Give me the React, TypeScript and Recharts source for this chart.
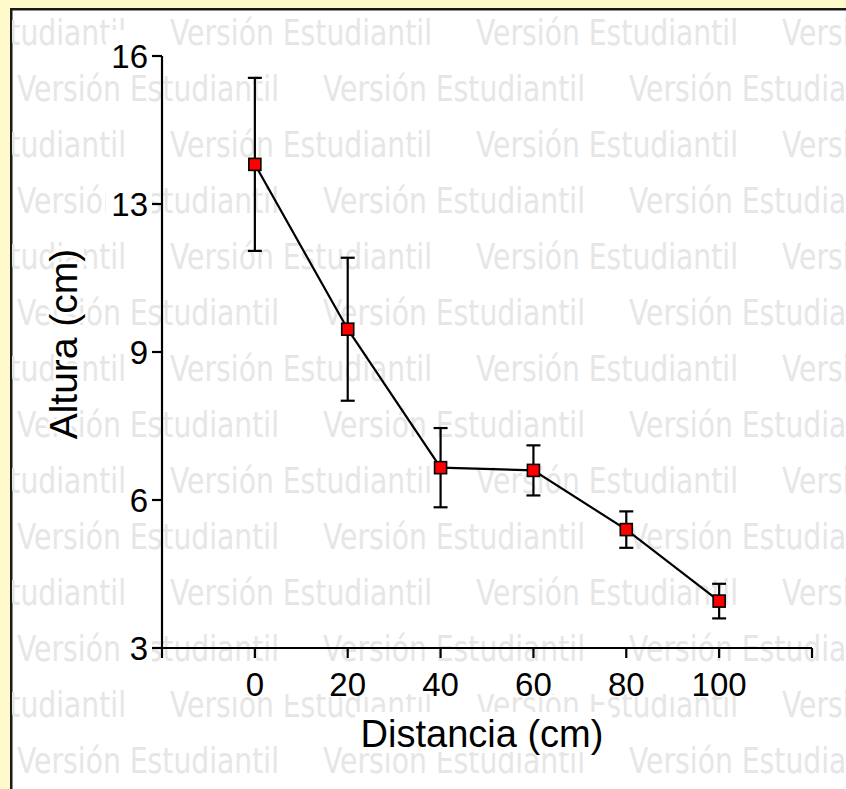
import React from "react";
import { ErrorBar, Line, LineChart, XAxis, YAxis } from "recharts";

// distancia (cm) y altura media (cm) con su error
const distancias = [0, 20, 40, 60, 80, 100];
const alturaMedia = [13.62, 10.0, 6.96, 6.9, 5.6, 4.03];
const alturaError = [1.9, 1.57, 0.87, 0.55, 0.4, 0.38];

const xTicks = [-20, 0, 20, 40, 60, 80, 100, 120];
const xTickLabels = ["", "0", "20", "40", "60", "80", "100", ""];
const yTicks = [3, 6.25, 9.5, 12.75, 16];
const yTickLabels = ["3", "6", "9", "13", "16"];

const data = distancias.map((d, i) => ({
  distancia: d,
  altura: alturaMedia[i],
  error: alturaError[i],
}));

const W = 846;
const H = 789;
const font = "'Liberation Sans', Arial, sans-serif";
const watermark = "Versión Estudiantil";

function Watermark() {
  const rows = [];
  for (let k = 0; k < 14; k++) {
    const baseline = 45 + 56 * k;
    const start = k % 2 === 1 ? 17 : 17 - 153;
    for (let x = start; x < W; x += 306) {
      rows.push(
        <text
          key={`${k}-${x}`}
          x={x}
          y={baseline}
          fontSize={35}
          fontFamily="'DejaVu Sans', Verdana, sans-serif"
          fill="#e6e6e6"
          textLength={262}
          lengthAdjust="spacingAndGlyphs"
        >
          {watermark}
        </text>
      );
    }
  }
  return (
    <svg width={W} height={H} style={{ position: "absolute", left: 0, top: 0 }}>
      <defs>
        <clipPath id="panel">
          <rect x={12} y={10} width={W} height={H} />
        </clipPath>
      </defs>
      <rect x={0} y={0} width={W} height={H} fill="#fffacc" />
      <rect x={11.25} y={9.25} width={W} height={H} fill="#fff" stroke="#1a1a1a" strokeWidth={2.5} />
      <g clipPath="url(#panel)">{rows}</g>
      {/* label backgrounds */}
      <rect x={205} y={664} width={555} height={30} fill="#fff" />
      <rect x={355} y={712} width={257} height={40} fill="#fff" />
    </svg>
  );
}

function YTick(props: any) {
  const { x, y, payload } = props;
  const label = yTickLabels[yTicks.indexOf(payload.value)] ?? "";
  const w = label.length * 18;
  return (
    <g>
      <rect x={x - w - 6} y={y - 26} width={w + 10} height={44} fill="#fff" />
      <text x={x} y={y} dy="0.355em" textAnchor="end" fontSize={33} fontFamily={font} fill="#000">
        {label}
      </text>
    </g>
  );
}

function XTick(props: any) {
  const { x, y, payload } = props;
  const label = xTickLabels[xTicks.indexOf(payload.value)] ?? "";
  if (!label) return <g />;
  return (
    <text x={x} y={y} dy="0.71em" textAnchor="middle" fontSize={33} fontFamily={font} fill="#000">
      {label}
    </text>
  );
}

function XLabel(props: any) {
  const { viewBox } = props;
  const cx = viewBox.x + viewBox.width / 2 - 5;
  return (
    <text x={cx} y={viewBox.y + 99} textAnchor="middle" fontSize={38} fontFamily={font} fill="#000">
      Distancia (cm)
    </text>
  );
}

function YLabel() {
  const x = 77;
  const y = 344;
  return (
    <text
      x={x}
      y={y}
      transform={`rotate(-90, ${x}, ${y})`}
      textAnchor="middle"
      fontSize={39}
      fontFamily={font}
      fill="#000"
      stroke="#fff"
      strokeWidth={5}
      paintOrder="stroke"
    >
      Altura (cm)
    </text>
  );
}

const squareDot = (props: any) => {
  const { cx, cy, index } = props;
  return (
    <rect
      key={`dot-${index}`}
      x={cx - 6}
      y={cy - 6}
      width={12}
      height={12}
      fill="#ff0000"
      stroke="#000"
      strokeWidth={1.6}
    />
  );
};

export default function App() {
  return (
    <div style={{ position: "absolute", left: 0, top: 0, width: W, height: H }}>
      <Watermark />
      <div style={{ position: "absolute", left: 0, top: 0 }}>
        <LineChart width={W} height={H} data={data} margin={{ top: 56, right: 34, left: 0, bottom: 0 }}>
          <XAxis
            type="number"
            dataKey="distancia"
            domain={[-20, 120]}
            ticks={xTicks}
            interval={0}
            height={141}
            tickSize={10}
            tickMargin={15}
            axisLine={{ stroke: "#000", strokeWidth: 2.2 }}
            tickLine={{ stroke: "#000", strokeWidth: 2.2 }}
            tick={<XTick />}
            label={<XLabel />}
          />
          <YAxis
            type="number"
            domain={[3, 16]}
            ticks={yTicks}
            interval={0}
            width={162}
            tickSize={10}
            tickMargin={4}
            axisLine={{ stroke: "#000", strokeWidth: 2.2 }}
            tickLine={{ stroke: "#000", strokeWidth: 2.2 }}
            tick={<YTick />}
            label={<YLabel />}
          />
          <Line
            dataKey="altura"
            type="linear"
            stroke="#000"
            strokeWidth={2.2}
            dot={squareDot}
            activeDot={false}
            isAnimationActive={false}
          >
            <ErrorBar dataKey="error" width={7} stroke="#000" strokeWidth={2.2} isAnimationActive={false} />
          </Line>
        </LineChart>
      </div>
    </div>
  );
}
